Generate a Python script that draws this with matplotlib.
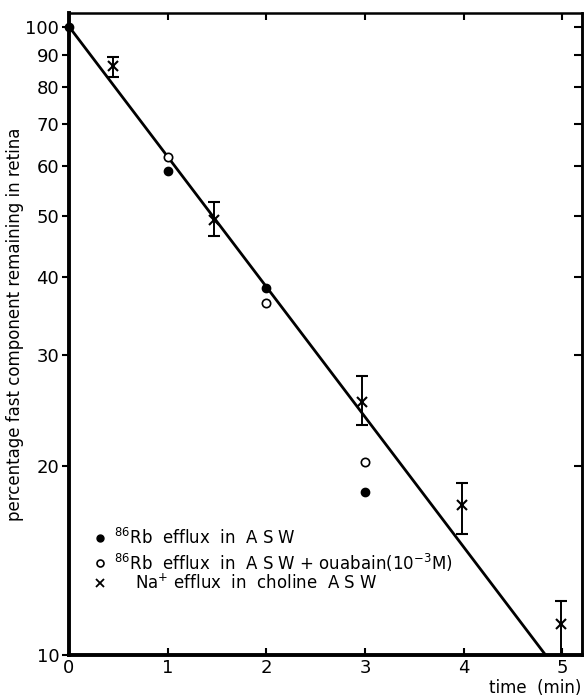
import numpy as np
import matplotlib.pyplot as plt
from matplotlib.ticker import FixedLocator, NullLocator, FixedFormatter

# 86Rb efflux in ASW (filled circles)
rb_x = [0, 1, 2, 3]
rb_y = [100, 59, 38.3, 18.2]

# 86Rb efflux in ASW + ouabain (open circles)
oua_x = [1, 2, 3]
oua_y = [62, 36.3, 20.3]

# Na+ efflux in choline ASW (crosses with error bars)
na_x = [0.45, 1.47, 2.97, 3.98, 4.99]
na_y = [86.4, 49.3, 25.3, 17.3, 11.2]
na_hi = [89.6, 52.6, 27.8, 18.8, 12.2]
na_lo = [83.2, 46.4, 23.2, 15.6, 10.0]

# fitted line
fit_x = [0, 4.83]
fit_y = [100, 10]

yticks = [10, 20, 30, 40, 50, 60, 70, 80, 90, 100]
xticks = [0, 1, 2, 3, 4, 5]

fig = plt.figure(figsize=(5.87, 6.96), dpi=100)
ax = fig.add_axes([0.1175, 0.059, 0.874, 0.922])
ax.set_yscale("log")
ax.set_xlim(0, 5.2)
ax.set_ylim(10, 105)

ax.plot(fit_x, fit_y, color="black", lw=2.0)

ax.plot(rb_x, rb_y, "o", color="black", ms=6, clip_on=False, zorder=5)
ax.plot(oua_x, oua_y, "o", mfc="white", mec="black", mew=1.2, ms=6, zorder=5)

yerr = [np.array(na_y) - np.array(na_lo), np.array(na_hi) - np.array(na_y)]
ax.errorbar(na_x, na_y, yerr=yerr, fmt="x", color="black", ms=7, mew=1.5,
            elinewidth=1.4, capsize=4, capthick=1.4, clip_on=False, zorder=5)

ax.yaxis.set_major_locator(FixedLocator(yticks))
ax.yaxis.set_major_formatter(FixedFormatter([str(v) for v in yticks]))
ax.yaxis.set_minor_locator(NullLocator())
ax.set_xticks(xticks)
ax.set_xticklabels([str(v) for v in xticks])

ax.tick_params(axis="y", which="both", direction="out", length=5, width=1.5,
               labelsize=13, right=False, pad=2)
ax.tick_params(axis="x", direction="in", length=5, width=1.5, labelsize=13,
               top=True, pad=3)

# right-hand ticks point inward
sec = ax.secondary_yaxis("right")
sec.set_yticks(yticks)
sec.yaxis.set_minor_locator(NullLocator())
sec.tick_params(direction="in", length=6, width=1.5, labelright=False)
sec.spines["right"].set_linewidth(1.8)

for side in ["left", "bottom"]:
    ax.spines[side].set_linewidth(2.8)
for side in ["top", "right"]:
    ax.spines[side].set_linewidth(1.8)

ax.set_ylabel("percentage fast component remaining in retina", fontsize=12)
ax.yaxis.set_label_coords(-0.087, 0.516)
fig.text(0.99, 0.012, "time  (min)", ha="right", va="center", fontsize=12)

# legend
lx_m = 0.060
lx_t = 0.088
rows = [0.182, 0.143, 0.112]
labels = [r"$^{86}$Rb  efflux  in  A S W",
          r"$^{86}$Rb  efflux  in  A S W + ouabain(10$^{-3}$M)",
          r"    Na$^{+}$ efflux  in  choline  A S W"]
ax.plot(lx_m, rows[0], "o", color="black", ms=5, transform=ax.transAxes)
ax.plot(lx_m, rows[1], "o", mfc="white", mec="black", mew=1.2, ms=5,
        transform=ax.transAxes)
ax.plot(lx_m, rows[2], "x", color="black", ms=6, mew=1.3, transform=ax.transAxes)
for r, lab in zip(rows, labels):
    ax.text(lx_t, r, lab, transform=ax.transAxes, va="center", fontsize=12)

fig.savefig("out.png", dpi=100)
